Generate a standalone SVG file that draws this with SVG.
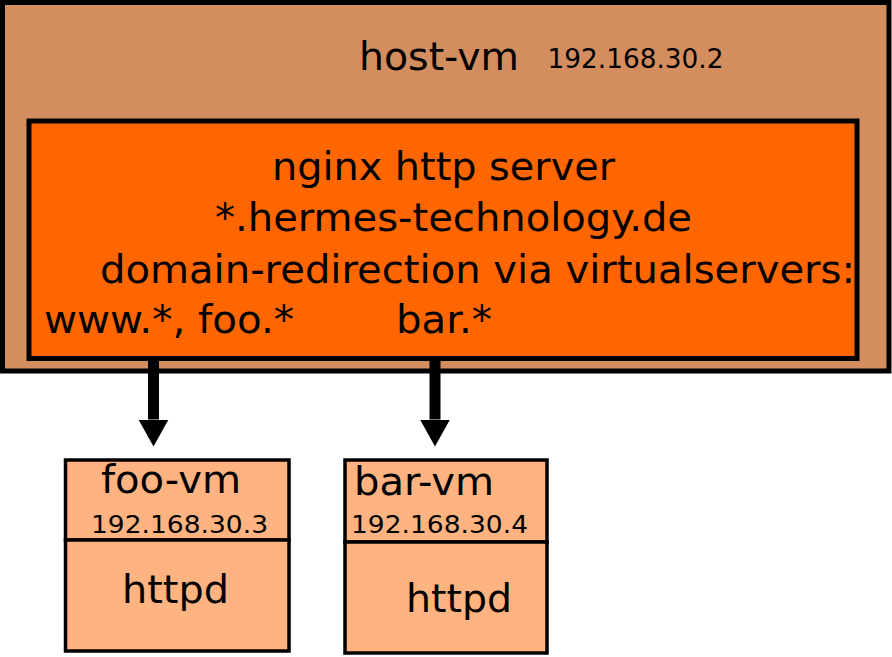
<svg xmlns="http://www.w3.org/2000/svg" width="892" height="657" viewBox="0 0 892 657">
<defs>
<style>
text{font-family:"DejaVu Sans","Liberation Sans",sans-serif;fill:#000}
.big{font-size:39px}
.ip{font-size:26px}
.ips{font-size:25px}
.box{stroke:#000}
</style>
<marker id="ah" markerUnits="userSpaceOnUse" viewBox="0 -15 27 30" refX="0" refY="0" markerWidth="27" markerHeight="30" orient="auto">
<path d="M0,-15 L27,0 L0,15 z" fill="#000"/>
</marker>
</defs>
<rect width="892" height="657" fill="#fff"/>
<g id="host-vm">
<rect class="box" x="2.5" y="2.5" width="886.5" height="368.5" fill="#d38d5f" stroke-width="5"/>
<text class="big" x="359" y="69.5" textLength="160" lengthAdjust="spacingAndGlyphs">host-vm</text>
<text class="ip" x="547.5" y="67.7" textLength="176" lengthAdjust="spacingAndGlyphs">192.168.30.2</text>
</g>
<g id="nginx">
<rect class="box" x="29" y="121" width="828" height="237.5" fill="#ff6600" stroke-width="5"/>
<text class="big" x="272" y="179.5" textLength="343" lengthAdjust="spacingAndGlyphs">nginx http server</text>
<text class="big" x="215" y="230.7" textLength="477" lengthAdjust="spacingAndGlyphs">*.hermes-technology.de</text>
<text class="big" x="100" y="283.3" textLength="755" lengthAdjust="spacingAndGlyphs">domain-redirection via virtualservers:</text>
<text class="big" x="44" y="333" textLength="250" lengthAdjust="spacingAndGlyphs">www.*, foo.*</text>
<text class="big" x="396" y="333" textLength="96" lengthAdjust="spacingAndGlyphs">bar.*</text>
</g>
<g id="connectors">
<line x1="153.5" y1="358" x2="153.5" y2="419.5" stroke="#000" stroke-width="11" marker-end="url(#ah)"/>
<line x1="435" y1="358" x2="435" y2="419.5" stroke="#000" stroke-width="11" marker-end="url(#ah)"/>
</g>
<g id="foo-vm">
<rect class="box" x="65.5" y="460" width="223.5" height="80" fill="#ffb380" stroke-width="3.5"/>
<text class="big" x="101" y="493" textLength="140" lengthAdjust="spacingAndGlyphs">foo-vm</text>
<text class="ips" x="91" y="533" textLength="177" lengthAdjust="spacingAndGlyphs">192.168.30.3</text>
</g>
<g id="foo-httpd">
<rect class="box" x="65.5" y="540" width="223.5" height="111" fill="#ffb380" stroke-width="3.5"/>
<text class="big" x="122" y="603" textLength="107" lengthAdjust="spacingAndGlyphs">httpd</text>
</g>
<g id="bar-vm">
<rect class="box" x="345" y="460" width="202" height="82" fill="#ffb380" stroke-width="3.5"/>
<text class="big" x="354" y="495" textLength="140" lengthAdjust="spacingAndGlyphs">bar-vm</text>
<text class="ips" x="351" y="533.3" textLength="177" lengthAdjust="spacingAndGlyphs">192.168.30.4</text>
</g>
<g id="bar-httpd">
<rect class="box" x="345" y="542" width="202" height="111" fill="#ffb380" stroke-width="3.5"/>
<text class="big" x="406" y="611.7" textLength="106" lengthAdjust="spacingAndGlyphs">httpd</text>
</g>
</svg>
